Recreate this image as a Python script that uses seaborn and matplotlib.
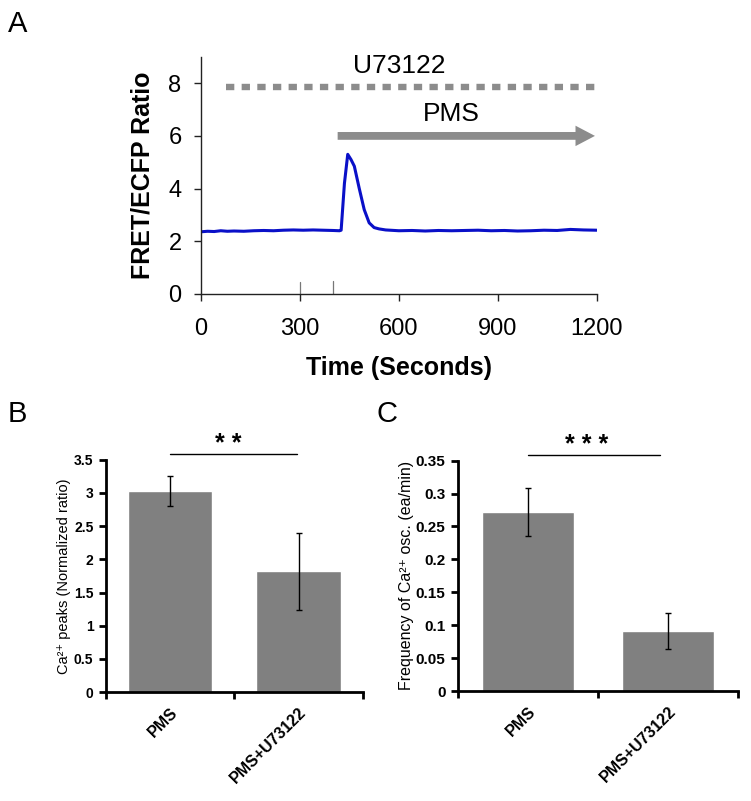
import numpy as np
import pandas as pd
import matplotlib
matplotlib.use("Agg")
import matplotlib.pyplot as plt
import seaborn as sns

# ------------------------------
# Data
# ------------------------------
# Panel A: FRET/ECFP trace
time_s = [0, 20, 40, 60, 80, 100, 130, 160, 190, 220, 250, 280,
          310, 340, 370, 400, 420, 425, 435, 445, 455, 465,
          480, 495, 510, 525, 540, 560, 600, 640, 680, 720, 760, 800,
          840, 880, 920, 960, 1000, 1040, 1080, 1120, 1160, 1200]
fret_ratio = [2.36, 2.38, 2.37, 2.40, 2.38, 2.39, 2.38, 2.40, 2.41, 2.40, 2.42, 2.43,
              2.42, 2.43, 2.42, 2.41, 2.40, 2.42, 4.2, 5.3, 5.1, 4.85,
              4.0, 3.2, 2.7, 2.52, 2.47, 2.43, 2.40, 2.41, 2.39, 2.41, 2.40, 2.41,
              2.42, 2.40, 2.41, 2.39, 2.40, 2.42, 2.41, 2.45, 2.43, 2.42]
u73122_span = [76, 1200]
u73122_level = 7.85
pms_span = [406, 1203]
pms_level = 6.0
stim_marks = [300, 400]

# Panels B and C: bar charts
groups = ["PMS", "PMS+U73122"]
peaks_mean = [3.03, 1.82]
peaks_err = [0.23, 0.58]
freq_mean = [0.272, 0.091]
freq_err = [0.036, 0.027]

sns.set_style("white")
plt.rcParams['font.family'] = ['Liberation Sans', 'DejaVu Sans']
for key in ["text.color", "axes.labelcolor", "xtick.color", "ytick.color"]:
    plt.rcParams[key] = "black"

fig = plt.figure(figsize=(7.51, 8.01), dpi=100)
grey = "#8c8c8c"

# ------------------------------
# Panel A
# ------------------------------
axA = fig.add_axes([0.2676, 0.633, 0.527, 0.296])
trace = pd.DataFrame({"t": time_s, "r": fret_ratio})
sns.lineplot(data=trace, x="t", y="r", ax=axA, color="#0a10c8", lw=2.2)
axA.plot(u73122_span, [u73122_level] * 2, color=grey, lw=4.6,
         linestyle=(0, (1.3, 1.15)), solid_capstyle="butt", dash_capstyle="butt")
axA.annotate("", xy=(pms_span[1], pms_level), xytext=(pms_span[0], pms_level),
             arrowprops=dict(arrowstyle="simple,head_length=1.0,head_width=1.05,tail_width=0.4",
                             mutation_scale=14, color=grey, lw=0),
             annotation_clip=False)
axA.text(600, 8.67, "U73122", ha="center", va="center", fontsize=19)
axA.text(760, 6.85, "PMS", ha="center", va="center", fontsize=19)
for m, h in zip(stim_marks, [0.45, 0.5]):
    axA.plot([m, m], [0, h], color="#777777", lw=0.9)
axA.set_xlim(0, 1200)
axA.set_ylim(0, 9)
axA.set_xticks([0, 300, 600, 900, 1200])
axA.set_yticks([0, 2, 4, 6, 8])
axA.set_xlabel("Time (Seconds)", fontsize=18, fontweight="bold", labelpad=12)
axA.set_ylabel("FRET/ECFP Ratio", fontsize=18, fontweight="bold", labelpad=10)
axA.tick_params(axis="x", pad=12)
axA.tick_params(axis="y", pad=9)
axA.tick_params(axis="both", labelsize=17, direction="out", length=5, width=1,
                color="#222222", left=True, bottom=True)
for s in ["top", "right"]:
    axA.spines[s].set_visible(False)
for s in ["left", "bottom"]:
    axA.spines[s].set_color("#222222")
    axA.spines[s].set_linewidth(1)


# ------------------------------
# Panels B and C
# ------------------------------
def bar_panel(ax, means, errs, ylabel, ymax, ystep, tick_size, label_size, label_pad,
              sig_y, sig_x1, stars, star_x):
    df = pd.DataFrame({"group": groups, "value": means})
    sns.barplot(data=df, x="group", y="value", color="#808080", saturation=1,
                width=0.66, ax=ax, errorbar=None)
    ax.errorbar([0, 1], means, yerr=errs, fmt="none", ecolor="black",
                elinewidth=1, capsize=2.5, capthick=1)
    ax.set_xlim(-0.5, 1.5)
    ax.set_ylim(0, ymax)
    yt = np.arange(0, ymax + ystep / 2, ystep)
    ax.set_yticks(yt)
    ax.set_yticklabels([fmt(v) for v in yt], fontweight="bold", fontsize=tick_size)
    ax.set_xticks([0, 1])
    ax.set_xticklabels(groups, rotation=45, ha="right", rotation_mode="anchor",
                       fontweight="bold", fontsize=11.5)
    ax.set_xticks([-0.5, 0.5, 1.5], minor=True)
    ax.tick_params(axis="x", which="major", length=0, pad=9)
    ax.tick_params(axis="x", which="minor", length=5, width=2, direction="out",
                   bottom=True, color="black")
    ax.tick_params(axis="y", length=5, width=2, direction="out", left=True,
                   color="black", pad=4)
    ax.set_xlabel("")
    ax.set_ylabel(ylabel, fontsize=label_size, labelpad=label_pad)
    for s in ["top", "right"]:
        ax.spines[s].set_visible(False)
    for s in ["left", "bottom"]:
        ax.spines[s].set_color("black")
        ax.spines[s].set_linewidth(2)
    ax.plot([0.0, sig_x1], [sig_y, sig_y], color="black", lw=1, clip_on=False)
    ax.annotate(stars, xy=(star_x, sig_y), xytext=(0, 2.5), textcoords="offset points",
                ha="center", va="baseline", fontsize=18, fontweight="bold",
                annotation_clip=False)


def fmt(v):
    return ("%.2f" % v).rstrip("0").rstrip(".") if v != 0 else "0"


axB = fig.add_axes([0.141, 0.136, 0.342, 0.29])
bar_panel(axB, peaks_mean, peaks_err, "Ca²⁺ peaks (Normalized ratio)", 3.5, 0.5,
          10, 10.5, 2, 3.58, 0.99, "* *", 0.45)

axC = fig.add_axes([0.610, 0.137, 0.373, 0.288])
bar_panel(axC, freq_mean, freq_err, "Frequency of Ca²⁺ osc. (ea/min)", 0.35, 0.05,
          11, 11.5, 1, 0.358, 0.94, "* * *", 0.42)

# Panel letters
fig.text(8 / 751, 1 - 24 / 801, "A", fontsize=21, va="center", ha="left")
fig.text(8 / 751, 1 - 414 / 801, "B", fontsize=21, va="center", ha="left")
fig.text(376 / 751, 1 - 414 / 801, "C", fontsize=21, va="center", ha="left")

fig.savefig("out.png", dpi=100)
